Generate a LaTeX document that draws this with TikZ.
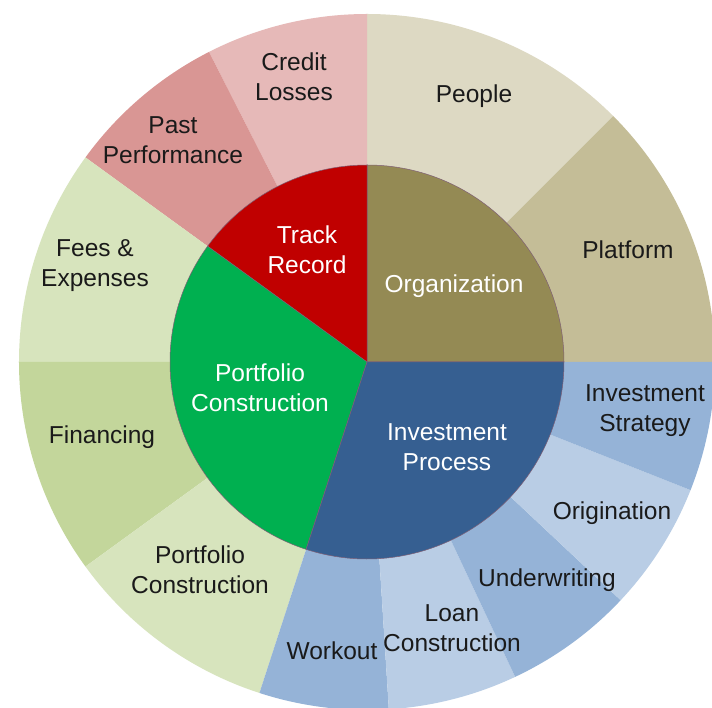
\documentclass[tikz,border=0pt]{standalone}
\usepackage{fontspec}
\setmainfont{Liberation Sans}
\definecolor{orgc}{HTML}{948A54}
\definecolor{peoplec}{HTML}{DDD9C3}
\definecolor{platc}{HTML}{C4BD97}
\definecolor{invc}{HTML}{365F91}
\definecolor{bluemid}{HTML}{95B3D7}
\definecolor{bluelight}{HTML}{B9CDE5}
\definecolor{portc}{HTML}{00B050}
\definecolor{greenlight}{HTML}{D7E4BD}
\definecolor{greenmid}{HTML}{C3D69B}
\definecolor{trackc}{HTML}{C00000}
\definecolor{redmid}{HTML}{D99694}
\definecolor{redlight}{HTML}{E6B9B8}
\definecolor{edgec}{HTML}{7F5F75}
\definecolor{txtc}{HTML}{1A1A1A}
\begin{document}
\begin{tikzpicture}[x=1pt,y=1pt,
  lbl/.style={font=\fontsize{24.5}{30}\selectfont, align=center, text=txtc, inner sep=0pt},
  ilbl/.style={lbl, text=white}]
\useasboundingbox (-367,-346) rectangle (345,362);
\clip (-367,-346) rectangle (345,362);
\fill[white] (-367,-346) rectangle (345,362);
% outer ring
\foreach \a/\b/\c in {0/45/platc, 45/90/peoplec, 90/117/redlight, 117/144/redmid,
  144/180/greenlight, 180/216/greenmid, 216/252/greenlight,
  252/273.6/bluemid, 273.6/295.2/bluelight, 295.2/316.8/bluemid,
  316.8/338.4/bluelight, 338.4/360/bluemid}
  \fill[\c] (0,0) -- (\a:348pt) arc[start angle=\a, end angle=\b, radius=348pt] -- cycle;
% inner pie
\foreach \a/\b/\c in {0/90/orgc, 90/144/trackc, 144/252/portc, 252/360/invc}
  \filldraw[fill=\c, draw=edgec, line width=0.5pt] (0,0) -- (\a:197pt) arc[start angle=\a, end angle=\b, radius=197pt] -- cycle;
% inner labels
\node[ilbl] (track) at (-60,112) {Track\\Record};
\node[ilbl] (org) at (87,76) {Organization};
\node[ilbl] (port) at (-107,-26) {Portfolio\\Construction};
\node[ilbl] (inv) at (80,-85) {Investment\\Process};
% outer labels
\node[lbl] (credit) at (-73,285) {Credit\\Losses};
\node[lbl] (past) at (-194,222) {Past\\Performance};
\node[lbl] (fees) at (-272,96) {Fees \&\\Expenses};
\node[lbl] (fin) at (-265,-75) {Financing};
\node[lbl] (portc) at (-167,-208) {Portfolio\\Construction};
\node[lbl] (work) at (-35,-289) {Workout};
\node[lbl] (loan) at (85,-266) {Loan\\Construction};
\node[lbl] (under) at (180,-218) {Underwriting};
\node[lbl] (orig) at (245,-151) {Origination};
\node[lbl] (strat) at (278,-49) {Investment\\Strategy};
\node[lbl] (people) at (107,266) {People};
\node[lbl] (plat) at (261,112) {Platform};
\end{tikzpicture}
\end{document}
